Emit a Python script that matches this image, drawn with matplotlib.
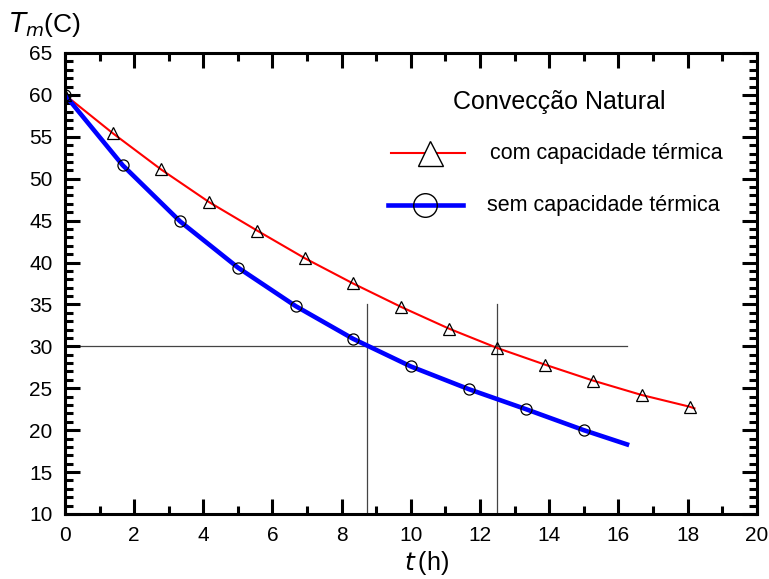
import matplotlib.pyplot as plt
from matplotlib.lines import Line2D
from matplotlib.ticker import MultipleLocator

plt.rcParams['font.family'] = ['Liberation Sans', 'DejaVu Sans']

# com capacidade termica (triangles)
t_com = [0, 1.39, 2.78, 4.17, 5.56, 6.94, 8.33, 9.72, 11.11, 12.5, 13.89, 15.28, 16.67, 18.06]
T_com = [60, 55.4, 51.1, 47.2, 43.8, 40.5, 37.5, 34.7, 32.1, 29.8, 27.8, 25.9, 24.2, 22.8]
# curve end
t_com_line = t_com + [18.2]
T_com_line = T_com + [22.6]

# sem capacidade termica (circles)
t_sem = [0, 1.67, 3.33, 5.0, 6.67, 8.33, 10.0, 11.67, 13.33, 15.0]
T_sem = [60, 51.6, 44.9, 39.4, 34.8, 30.9, 27.6, 24.9, 22.5, 20.0]
t_sem_line = t_sem + [16.25]
T_sem_line = T_sem + [18.3]

# 30 C reference lines
T_ref = 30
t_ref_end = 16.25
t_cross = [8.72, 12.48]
T_vline_top = 35

fig = plt.figure(figsize=(7.69, 5.79), dpi=100)
ax = fig.add_axes([0.0845, 0.1123, 0.8995, 0.7962])

ax.plot([0, t_ref_end], [T_ref, T_ref], color='#444444', lw=0.9, zorder=1)
for tc in t_cross:
    ax.plot([tc, tc], [10, T_vline_top], color='#444444', lw=0.9, zorder=1)

ax.plot(t_com_line, T_com_line, color='red', lw=1.5, zorder=2)
ax.plot(t_sem_line, T_sem_line, color='blue', lw=3.3, zorder=2)
ax.plot(t_com, T_com, ls='none', marker='^', ms=9, mfc='none', mec='black', mew=0.9, zorder=3)
ax.plot(t_sem, T_sem, ls='none', marker='o', ms=8, mfc='none', mec='black', mew=0.9, zorder=3)

# legend drawn by hand
tr = ax.transAxes
ax.text(0.714, 0.894, 'Convecção Natural', transform=tr, fontsize=18,
        ha='center', va='center')
ax.add_line(Line2D([0.471, 0.579], [0.783, 0.783], transform=tr, color='red', lw=1.5))
ax.add_line(Line2D([0.527], [0.783], transform=tr, ls='none', marker='^', ms=18,
                   mfc='white', mec='black', mew=1.0))
ax.text(0.614, 0.783, 'com capacidade térmica', transform=tr, fontsize=15.5,
        ha='left', va='center')
ax.add_line(Line2D([0.467, 0.575], [0.670, 0.670], transform=tr, color='blue', lw=3.3))
ax.add_line(Line2D([0.520], [0.670], transform=tr, ls='none', marker='o', ms=17,
                   mfc='none', mec='black', mew=1.0))
ax.text(0.610, 0.670, 'sem capacidade térmica', transform=tr, fontsize=15.5,
        ha='left', va='center')

ax.set_xlim(0, 20)
ax.set_ylim(10, 65)
ax.xaxis.set_major_locator(MultipleLocator(2))
ax.xaxis.set_minor_locator(MultipleLocator(1))
ax.yaxis.set_major_locator(MultipleLocator(5))
ax.yaxis.set_minor_locator(MultipleLocator(1))
ax.tick_params(which='both', direction='in', top=True, right=True, width=2.2,
               labelsize=15)
ax.tick_params(which='major', length=11, pad=9)
ax.tick_params(which='minor', length=6)
for sp in ax.spines.values():
    sp.set_linewidth(2.2)

fig.text(0.012, 0.945, r'$T_m$(C)', fontsize=19, ha='left', va='baseline')
fig.text(0.555, 0.015, r'$t\,$(h)', fontsize=18, ha='center', va='baseline')

fig.savefig('out.png', dpi=100)
